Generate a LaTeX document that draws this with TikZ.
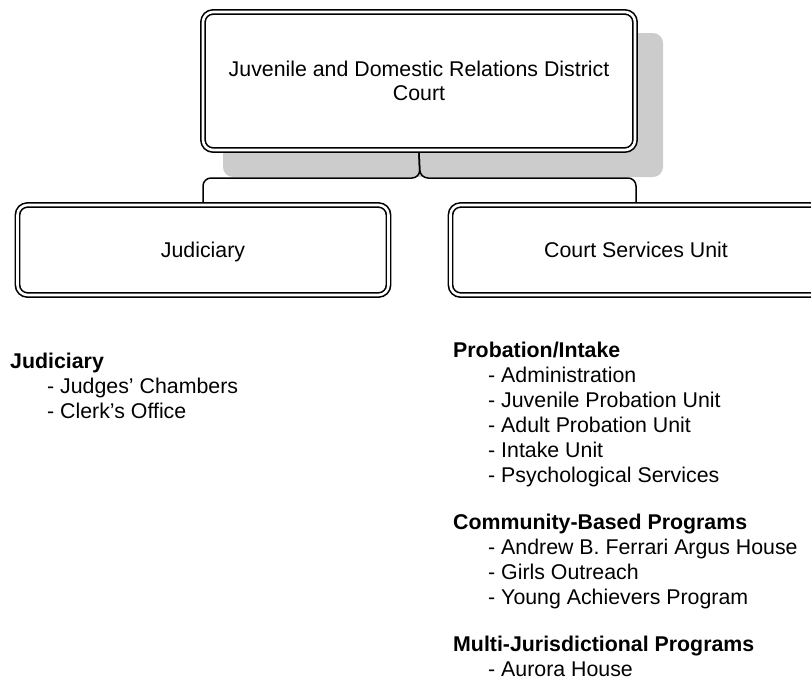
\documentclass[tikz,border=0pt]{standalone}
\usepackage{fontspec}
\setmainfont{Liberation Sans}
\definecolor{shadowgray}{HTML}{CCCCCC}
\newcommand{\orgfont}{\fontsize{21.33}{24}\selectfont}
\tikzset{
  orgbox/.style={draw=black, line width=1.6pt, double=white, double distance=2.6pt,
    rounded corners=10pt, fill=white, outer sep=2.9pt, inner sep=0pt,
    font=\orgfont, align=center},
  unitbox/.style={orgbox, minimum width=371pt, minimum height=90pt,
    text height=15.3pt, text depth=0pt},
  link/.style={line width=1.5pt, rounded corners=8pt},
  item/.style={anchor=base west, inner sep=0pt, font=\orgfont},
  head/.style={item, font=\orgfont\bfseries},
}

\begin{document}
\begin{tikzpicture}[x=1pt, y=-1pt]
    \useasboundingbox (0,0) rectangle (811,694);

    \coordinate (fork) at (420,178);

    \fill[shadowgray, rounded corners=10pt] (223,33) rectangle (663,177);

    \node[orgbox, minimum width=432pt, minimum height=138pt] (court) at (419,81)
        {Juvenile and Domestic Relations District\\Court};
    \node[unitbox] (jud) at (203,250) {Judiciary};
    \node[unitbox] (csu) at (636,250) {Court Services Unit};

    \draw[link] (court.south) -- (fork) -| (jud.north);
    \draw[link] (court.south) -- (fork) -| (csu.north);

    \node[head] (judh) at (10,368) {Judiciary};
    \node[item] (jud1) at (47,393) {- Judges' Chambers};
    \node[item] (jud2) at (47,418) {- Clerk's Office};

    \node[head] (proh) at (453,357) {Probation/Intake};
    \node[item] (pro1) at (488,382) {- Administration};
    \node[item] (pro2) at (488,407) {- Juvenile Probation Unit};
    \node[item] (pro3) at (488,432) {- Adult Probation Unit};
    \node[item] (pro4) at (488,457) {- Intake Unit};
    \node[item] (pro5) at (488,482) {- Psychological Services};

    \node[head] (comh) at (453,529) {Community-Based Programs};
    \node[item] (com1) at (488,554) {- Andrew B. Ferrari Argus House};
    \node[item] (com2) at (488,579) {- Girls Outreach};
    \node[item] (com3) at (488,604) {- Young Achievers Program};

    \node[head] (mulh) at (453,651) {Multi-Jurisdictional Programs};
    \node[item] (mul1) at (488,676) {- Aurora House};
\end{tikzpicture}
\end{document}
